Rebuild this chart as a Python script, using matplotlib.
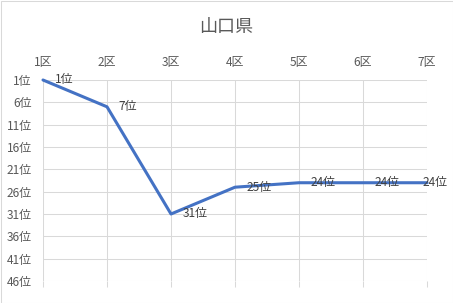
import matplotlib
matplotlib.use("Agg")
import matplotlib.pyplot as plt
from matplotlib.patches import Rectangle

plt.rcParams['font.family'] = ['Noto Sans CJK JP', 'DejaVu Sans']

districts = ["1区", "2区", "3区", "4区", "5区", "6区", "7区"]
ranks = [1, 7, 31, 25, 24, 24, 24]
rank_ticks = [1, 6, 11, 16, 21, 26, 31, 36, 41, 46]
rank_tick_labels = [f"{r}位" for r in rank_ticks]
point_labels = [f"{r}位" for r in ranks]
title = "山口県"

W, H, DPI = 453, 303, 100
fig = plt.figure(figsize=(W / DPI, H / DPI), dpi=DPI)
fig.patch.set_facecolor("white")

left, right, top, bottom = 43, 427, 80, 281
ax = fig.add_axes([left / W, 1 - bottom / H, (right - left) / W, (bottom - top) / H])

x = list(range(len(districts)))
line_color = "#4472C4"
grid_color = "#D9D9D9"
text_color = "#595959"
label_color = "#404040"

ax.plot(x, ranks, color=line_color, linewidth=2.2, solid_capstyle="round",
        solid_joinstyle="round", zorder=3, clip_on=False)

ax.set_xlim(0, len(districts) - 1)
ax.set_ylim(46, 1)
ax.set_xticks(x)
ax.set_xticklabels(districts)
ax.set_yticks(rank_ticks)
ax.set_yticklabels(rank_tick_labels)

ax.xaxis.set_ticks_position("bottom")
ax.xaxis.set_label_position("top")
ax.tick_params(axis="x", bottom=True, top=False, labelbottom=False, labeltop=True,
               length=4, width=0.75, color=grid_color, direction="out",
               pad=4, labelsize=8.6, labelcolor=text_color)
ax.tick_params(axis="y", left=False, length=0, pad=8,
               labelsize=8.6, labelcolor=text_color)

ax.grid(True, color=grid_color, linewidth=0.75)
ax.set_axisbelow(True)
for s in ax.spines.values():
    s.set_visible(False)

for i, (xi, r, lab) in enumerate(zip(x, ranks, point_labels)):
    dx = 8.6 if i < len(x) - 1 else -3
    ax.annotate(lab, (xi, r), xytext=(dx, 0), textcoords="offset points",
                ha="left", va="center", fontsize=8.6, color=label_color,
                zorder=4, annotation_clip=False)

fig.text(226 / W, 1 - 27 / H, title, ha="center", va="center",
         fontsize=13, color=text_color)

fig.add_artist(Rectangle((0.5 / W, 0.5 / H), (W - 1) / W, (H - 1) / H,
                         transform=fig.transFigure, fill=False,
                         edgecolor=grid_color, linewidth=0.75))

fig.savefig("out.png", dpi=DPI)
